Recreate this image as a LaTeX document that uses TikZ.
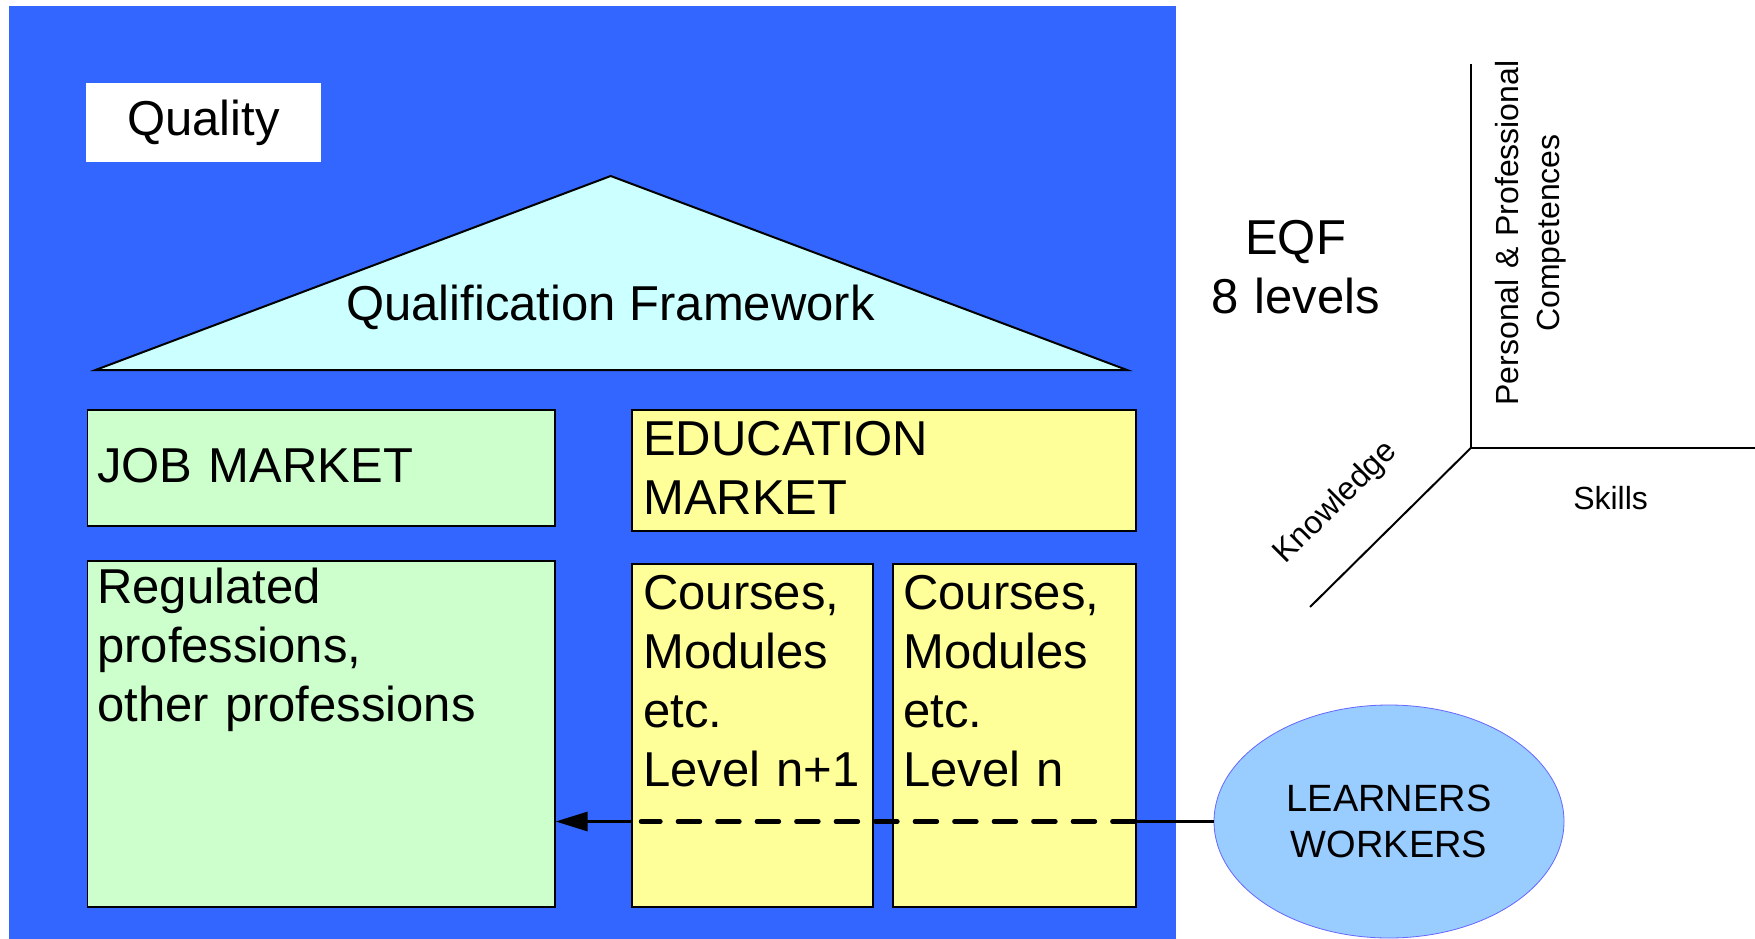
\documentclass[tikz,border=0pt]{standalone}
\usepackage{fontspec}
\setmainfont{Liberation Sans}
\usetikzlibrary{arrows.meta,shapes.geometric}
\definecolor{bgblue}{HTML}{3366FF}
\definecolor{boxgreen}{HTML}{CCFFCC}
\definecolor{boxyellow}{HTML}{FFFF99}
\definecolor{roofcyan}{HTML}{CCFFFF}
\definecolor{ellblue}{HTML}{99CCFF}
\definecolor{ellborder}{HTML}{6666FF}
\tikzset{
  bigfont/.style={font=\fontsize{49}{59.3}\selectfont},
  boxbase/.style={rectangle, draw=black, line width=1.6pt, inner sep=0pt, anchor=north west},
  greenbox/.style={boxbase, fill=boxgreen},
  yellowbox/.style={boxbase, fill=boxyellow},
  boxtext/.style={bigfont, inner sep=0pt, align=left, anchor=base west},
  axisline/.style={line width=2pt, black},
  axistext/.style={font=\fontsize{32}{40.5}\selectfont, inner sep=0pt},
}
\begin{document}
\begin{tikzpicture}[x=1pt,y=-1pt]
\useasboundingbox (0,0) rectangle (1755,939);
\fill[white] (0,0) rectangle (1755,939);
% blue panel
\fill[bgblue] (9,6) rectangle (1176,939);

% Quality
\node[fill=white, minimum width=235pt, minimum height=79pt, inner sep=0pt, bigfont] (quality) at (203.5,122.5) {Quality};

% roof
\draw[fill=roofcyan, line width=2pt] (95.5,370) coordinate (roofl) -- (610.7,176) coordinate (rooft) -- (1127,370) coordinate (roofr) -- cycle;
\node[bigfont, inner sep=0pt, anchor=base] (qf) at (610.5,320) {Qualification Framework};

% job market side
\node[greenbox, minimum width=467.3pt, minimum height=116pt] (job) at (86.7,409) {};
\node[boxtext, text width=440pt] (jobt) at (97,482) {JOB MARKET};
\node[greenbox, minimum width=467.3pt, minimum height=346pt] (reg) at (86.7,560) {};
\node[boxtext, text width=440pt] (regt) at (97,603) {Regulated\\professions,\\other professions};

% ellipse
\node[ellipse, fill=ellblue, draw=ellborder, line width=0.8pt, minimum width=350pt, minimum height=233pt, inner sep=0pt,
      font=\fontsize{38}{46}\selectfont, align=center] (learn) at (1389,821.5) {LEARNERS\\WORKERS};

% solid arrow (behind the yellow boxes)
\draw[line width=3pt, -{Triangle[length=32pt,width=19pt]}] (learn.west) -- (learn.west -| reg.east);

% education market side
\node[yellowbox, minimum width=504pt, minimum height=121pt] (edu) at (631,409) {};
\node[boxtext, text width=480pt] (edut) at (643,455) {EDUCATION\\MARKET};
\node[yellowbox, minimum width=241pt, minimum height=343pt] (c1) at (631,563) {};
\node[boxtext, text width=230pt] (c1t) at (643,609) {Courses,\\Modules\\etc.\\Level n+1};
\node[yellowbox, minimum width=243pt, minimum height=343pt] (c2) at (892,563) {};
\node[boxtext, text width=230pt] (c2t) at (903,609) {Courses,\\Modules\\etc.\\Level n};

% dashed part over the yellow boxes
\draw[line width=4.5pt, line cap=round, dash pattern=on 22pt off 17.5pt] ([xshift=-2.2pt]learn.west -| c2.east) -- ([xshift=10pt]learn.west -| c1.west);

% EQF
\node[bigfont, inner sep=0pt, align=center, text width=300pt, anchor=base] (eqf) at (1295.6,254.6) {EQF\\8 levels};

% axes
\coordinate (origin) at (1470.8,448);
\coordinate (ytop) at (1470.8,64);
\coordinate (xright) at (1755,448);
\coordinate (zend) at (1310,607);
\draw[axisline] (ytop) -- (origin) -- (xright);
\draw[axisline] (origin) -- (zend);
\node[axistext, rotate=90, align=center, text width=400pt] (ppc) at (1530.6,233) {Personal \& Professional\\Competences};
\node[axistext, anchor=base] (skills) at (1610.6,509.8) {Skills};
\node[axistext, rotate=45] (know) at (1336,503) {Knowledge};
\end{tikzpicture}
\end{document}
